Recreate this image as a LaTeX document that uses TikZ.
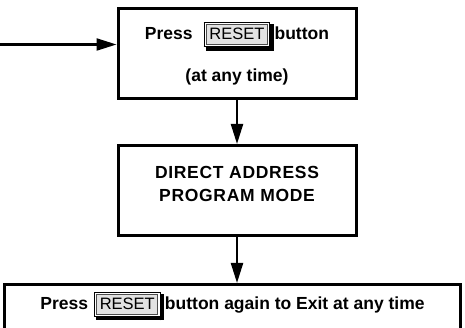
\documentclass[tikz,border=0pt]{standalone}
\usepackage{fontspec}
\setmainfont{Liberation Sans}
\newfontfamily\widefont[LetterSpace=4]{Liberation Sans}
\usetikzlibrary{arrows.meta,positioning}
\definecolor{keygray}{HTML}{E2E2E2}

% the RESET key, framed with a shadow to the right and below
\newsavebox{\keybox}
\newcommand{\resetkey}{{%
  \setlength{\fboxrule}{0.9pt}\setlength{\fboxsep}{1.3pt}%
  \sbox{\keybox}{\fcolorbox{black}{white}{\setlength{\fboxsep}{2.6pt}%
    \fcolorbox{gray!60!black}{keygray}{\fontsize{16.5}{18}\selectfont\mdseries\rule[-1.5pt]{0pt}{13.5pt}RESET}}}%
  \usebox{\keybox}%
  \color{black}\rule[\dimexpr-\dp\keybox-3.5pt]{3.5pt}{\dimexpr\ht\keybox+\dp\keybox+1.5pt}%
  \llap{\rule[\dimexpr-\dp\keybox-3.5pt]{\dimexpr\wd\keybox+1.5pt}{3.5pt}}}}

\begin{document}
\begin{tikzpicture}[x=1pt,y=-1pt,node distance=44pt,>={Triangle[length=20pt,width=12pt]}]
\tikzset{box/.style={draw,line width=3pt,minimum width=238pt,minimum height=90pt,align=center,
  font=\fontsize{17.5}{23}\selectfont\bfseries}}
\useasboundingbox (0,0) rectangle (465,328);
\clip (0,0) rectangle (465,328);
\node[box] (press) at (237,53.5) {Press\hspace{11pt}\resetkey\hspace{1pt}button\\[17pt](at any time)};
\node[box,below=of press,text depth=14pt,font=\fontsize{17.5}{23}\selectfont\widefont\bfseries] (direct) {DIRECT ADDRESS\\PROGRAM MODE};
\node[box,minimum width=456pt,minimum height=46.5pt,text depth=14pt] (exit) at (232.5,307.75) {Press\hspace{6pt}\resetkey\hspace{1pt}button again to Exit at any time};
\coordinate (feed) at (0,44.5);
\draw[->,line width=2.2pt] (feed) -- (feed -| press.west);
\draw[->,line width=2.2pt] (press) -- (direct);
\draw[->,line width=2.2pt] (direct.south) -- (direct.south |- exit.north);
\end{tikzpicture}
\end{document}
